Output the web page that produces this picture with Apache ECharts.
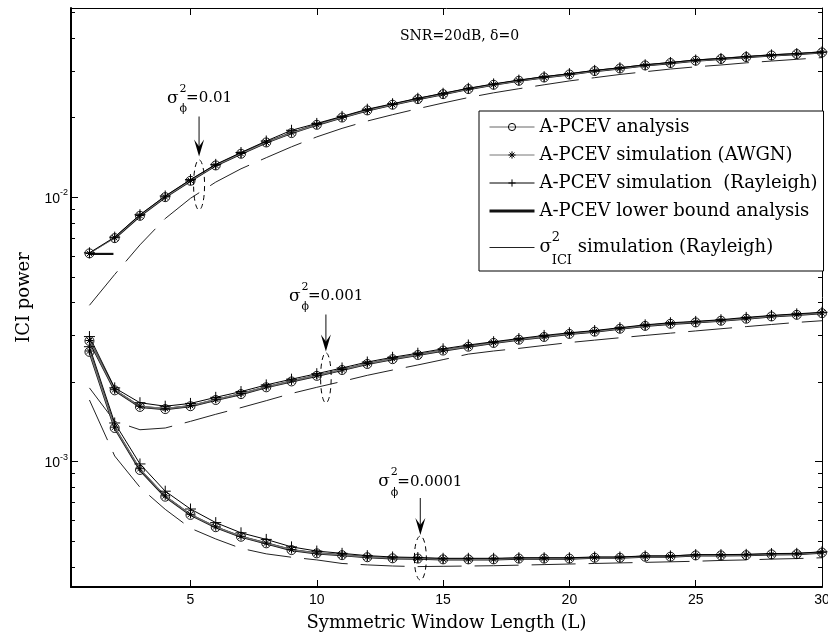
<!DOCTYPE html>
<html>
<head>
<meta charset="utf-8">
<script src="https://cdn.jsdelivr.net/npm/echarts@6/dist/echarts.min.js"></script>
<style>
  html, body { margin: 0; padding: 0; background: #fff; }
  #main { width: 828px; height: 641px; }
</style>
</head>
<body>
<div id="main"></div>
<script>
// window length L
var L = [1, 2, 3, 4, 5, 6, 7, 8, 9, 10, 11, 12, 13, 14, 15,
         16, 17, 18, 19, 20, 21, 22, 23, 24, 25, 26, 27, 28, 29, 30];

// sigma_phi^2 = 0.01
var anaTop  = [0.00613, 0.00700, 0.00850, 0.01000, 0.01153, 0.01318, 0.01459, 0.01610, 0.01747, 0.01877,
               0.02000, 0.02128, 0.02236, 0.02348, 0.02452, 0.02563, 0.02660, 0.02755, 0.02835, 0.02910,
               0.02998, 0.03066, 0.03148, 0.03214, 0.03280, 0.03330, 0.03386, 0.03434, 0.03476, 0.03524];
var awgnTop = [0.00612, 0.00702, 0.00852, 0.01002, 0.01155, 0.01320, 0.01462, 0.01612, 0.01750, 0.01880,
               0.02003, 0.02130, 0.02240, 0.02350, 0.02455, 0.02566, 0.02663, 0.02758, 0.02838, 0.02914,
               0.03000, 0.03070, 0.03150, 0.03218, 0.03284, 0.03334, 0.03390, 0.03438, 0.03480, 0.03528];
var rayTop  = [0.00616, 0.00706, 0.00858, 0.01010, 0.01165, 0.01330, 0.01475, 0.01630, 0.01790, 0.01900,
               0.02020, 0.02150, 0.02255, 0.02365, 0.02470, 0.02580, 0.02680, 0.02770, 0.02855, 0.02930,
               0.03015, 0.03085, 0.03165, 0.03230, 0.03300, 0.03345, 0.03400, 0.03450, 0.03490, 0.03540];
var iciTop  = [0.0039, 0.0051, 0.0066, 0.0083, 0.0099, 0.0114, 0.0128, 0.0141, 0.0155, 0.0169,
               0.0182, 0.0194, 0.0205, 0.0216, 0.0227, 0.0238, 0.0248, 0.0257, 0.0266, 0.0275,
               0.0283, 0.0291, 0.0298, 0.0305, 0.0311, 0.0316, 0.0322, 0.0327, 0.0332, 0.0337];
// short piece of the lower bound at L=1
var lbStubL = [1, 1.95];
var lbStubV = [0.0061, 0.0061];

// sigma_phi^2 = 0.001
var anaMid  = [0.00286, 0.00186, 0.00161, 0.00158, 0.00162, 0.00171, 0.00180, 0.00191, 0.00201, 0.00211,
               0.00222, 0.00234, 0.00244, 0.00253, 0.00263, 0.00272, 0.00281, 0.00289, 0.00296, 0.00304,
               0.00310, 0.00318, 0.00326, 0.00332, 0.00336, 0.00341, 0.00347, 0.00354, 0.00359, 0.00364];
var awgnMid = [0.00287, 0.00187, 0.00162, 0.00159, 0.00163, 0.00172, 0.00181, 0.00192, 0.00202, 0.00212,
               0.00223, 0.00235, 0.00245, 0.00254, 0.00264, 0.00273, 0.00282, 0.00290, 0.00297, 0.00305,
               0.00311, 0.00319, 0.00327, 0.00333, 0.00337, 0.00342, 0.00348, 0.00355, 0.00360, 0.00365];
var rayMid  = [0.00297, 0.00190, 0.00167, 0.00162, 0.00166, 0.00175, 0.00184, 0.00195, 0.00205, 0.00215,
               0.00226, 0.00238, 0.00248, 0.00257, 0.00267, 0.00276, 0.00284, 0.00292, 0.00300, 0.00307,
               0.00313, 0.00321, 0.00329, 0.00335, 0.00339, 0.00344, 0.00351, 0.00357, 0.00362, 0.00367];
var iciMid  = [0.00190, 0.00142, 0.00132, 0.00134, 0.00142, 0.00151, 0.00160, 0.00170, 0.00181, 0.00191,
               0.00201, 0.00212, 0.00222, 0.00232, 0.00243, 0.00255, 0.00262, 0.00268, 0.00275, 0.00282,
               0.00288, 0.00294, 0.00300, 0.00306, 0.00312, 0.00318, 0.00324, 0.00330, 0.00336, 0.00341];

// sigma_phi^2 = 0.0001
var anaBot  = [0.00260, 0.00134, 0.00093, 0.000737, 0.000629, 0.000565, 0.000520, 0.000491, 0.000463, 0.000450,
               0.000443, 0.000435, 0.000431, 0.000430, 0.000427, 0.000427, 0.000427, 0.000430, 0.000430, 0.000430,
               0.000433, 0.000433, 0.000437, 0.000437, 0.000442, 0.000442, 0.000443, 0.000446, 0.000447, 0.000453];
var awgnBot = [0.00262, 0.00135, 0.00094, 0.000742, 0.000632, 0.000567, 0.000522, 0.000492, 0.000465, 0.000451,
               0.000444, 0.000436, 0.000432, 0.000431, 0.000428, 0.000428, 0.000428, 0.000431, 0.000431, 0.000431,
               0.000434, 0.000434, 0.000438, 0.000438, 0.000443, 0.000443, 0.000444, 0.000447, 0.000448, 0.000454];
var rayBot  = [0.00272, 0.00140, 0.00098, 0.000773, 0.000662, 0.000588, 0.000538, 0.000508, 0.000476, 0.000459,
               0.000450, 0.000441, 0.000436, 0.000434, 0.000431, 0.000431, 0.000431, 0.000433, 0.000433, 0.000433,
               0.000436, 0.000436, 0.000440, 0.000440, 0.000445, 0.000445, 0.000446, 0.000449, 0.000450, 0.000456];
var iciBot  = [0.00171, 0.00105, 0.00080, 0.00066, 0.00056, 0.00051, 0.00047, 0.000448, 0.000435, 0.000425,
               0.000412, 0.000407, 0.000403, 0.000401, 0.000402, 0.000403, 0.000404, 0.000406, 0.000408, 0.000410,
               0.000412, 0.000414, 0.000416, 0.000418, 0.000420, 0.000423, 0.000425, 0.000428, 0.000430, 0.000433];

// ticks
var xTicks = [5, 10, 15, 20, 25, 30];
var yMajor = [0.001, 0.01];
var yMinor = [0.0004, 0.0005, 0.0006, 0.0007, 0.0008, 0.0009,
              0.002, 0.003, 0.004, 0.005, 0.006, 0.007, 0.008, 0.009,
              0.02, 0.03, 0.04, 0.05];

var N_ANA = 'A-PCEV analysis';
var N_AWGN = 'A-PCEV simulation (AWGN)';
var N_RAY = 'A-PCEV simulation  (Rayleigh)';
var N_LB = 'A-PCEV lower bound analysis';
var N_ICI = 'sigma2 ICI simulation (Rayleigh)';

var serif = '"DejaVu Serif", serif';
var sans = '"Liberation Sans", Arial, sans-serif';

var asterisk = 'path://M0,5L10,5M5,0L5,10M1.6,1.6L8.4,8.4M8.4,1.6L1.6,8.4';
var plusSym = 'path://M0,5L10,5M5,0L5,10';

function pts(xs, ys) {
  return xs.map(function (x, i) { return [x, ys[i]]; });
}

var hidden = { color: 'rgba(0,0,0,0)', borderWidth: 0 };

function ici(ys) {
  return { name: N_ICI, type: 'line', data: pts(L, ys), symbol: 'circle', showSymbol: false,
    itemStyle: hidden, lineStyle: { color: '#222', width: 1, type: [44, 13] }, z: 2 };
}
function lb(xs, ys) {
  return { name: N_LB, type: 'line', data: pts(xs, ys), symbol: 'circle', showSymbol: false,
    itemStyle: hidden, lineStyle: { color: '#111', width: 2.2 }, z: 3 };
}
function ana(ys) {
  return { name: N_ANA, type: 'line', data: pts(L, ys), symbol: 'circle', symbolSize: 9,
    itemStyle: { color: 'rgba(0,0,0,0)', borderColor: '#000', borderWidth: 0.9 },
    lineStyle: { color: '#666', width: 1 }, z: 4 };
}
function awgn(ys) {
  return { name: N_AWGN, type: 'line', data: pts(L, ys), symbol: asterisk, symbolSize: 8,
    itemStyle: { color: '#000', borderColor: '#000', borderWidth: 1 },
    lineStyle: { color: '#777', width: 1 }, z: 5 };
}
function ray(ys) {
  return { name: N_RAY, type: 'line', data: pts(L, ys), symbol: plusSym, symbolSize: 11,
    itemStyle: { color: '#000', borderColor: '#000', borderWidth: 1 },
    lineStyle: { color: '#000', width: 1 }, z: 6 };
}

var series = [
  ana(anaTop), awgn(awgnTop), ray(rayTop), lb(lbStubL, lbStubV), ici(iciTop),
  lb(L.slice(1), anaTop.slice(1)),
  ana(anaMid), awgn(awgnMid), ray(rayMid), lb(L, anaMid), ici(iciMid),
  ana(anaBot), awgn(awgnBot), ray(rayBot), lb(L, anaBot), ici(iciBot)
];

var xMin = 0.27, xMax = 30;
var yMin = 0.0003357, yMax = 0.0519;

function yAx(pos, ticks, len, showLabel, lineW) {
  return {
    type: 'log', logBase: 10, min: yMin, max: yMax, position: pos,
    axisLine: { show: lineW > 0, lineStyle: { color: '#000', width: lineW } },
    axisTick: { show: true, inside: true, length: len, customValues: ticks,
      lineStyle: { color: '#000', width: 1 } },
    axisLabel: showLabel ? {
      show: true, margin: 3, customValues: yMajor, color: '#000',
      formatter: function (v) {
        return '{b|10}{sup|' + Math.round(Math.log(v) / Math.LN10) + '}';
      },
      rich: {
        b: { fontFamily: sans, fontSize: 14, color: '#000', padding: [4, 0, 0, 0] },
        sup: { fontFamily: sans, fontSize: 9, color: '#000', verticalAlign: 'top' }
      }
    } : { show: false },
    splitLine: { show: false },
    minorTick: { show: false }
  };
}

var chart = echarts.init(document.getElementById('main'));

chart.setOption({
  animation: false,
  backgroundColor: '#fff',
  grid: { left: 71, right: 6, top: 8, bottom: 54, show: false, containLabel: false, outerBoundsMode: 'none' },
  xAxis: [{
    type: 'value', min: xMin, max: xMax, position: 'bottom',
    name: 'Symmetric Window Length (L)', nameLocation: 'middle', nameGap: 27,
    nameTextStyle: { fontFamily: serif, fontSize: 18, color: '#000' },
    axisLine: { onZero: false, lineStyle: { color: '#000', width: 2 } },
    axisTick: { inside: true, length: 7, customValues: xTicks, lineStyle: { color: '#000' } },
    axisLabel: { customValues: xTicks, margin: 6, fontFamily: sans, fontSize: 14, color: '#000' },
    splitLine: { show: false }
  }, {
    type: 'value', min: xMin, max: xMax, position: 'top',
    axisLine: { onZero: false, lineStyle: { color: '#000', width: 1 } },
    axisTick: { inside: true, length: 7, customValues: xTicks, lineStyle: { color: '#000' } },
    axisLabel: { show: false },
    splitLine: { show: false }
  }],
  yAxis: [
    (function () {
      var a = yAx('left', yMajor, 7, true, 2);
      a.name = 'ICI power';
      a.nameLocation = 'middle';
      a.nameGap = 35;
      a.nameRotate = 90;
      a.nameTextStyle = { fontFamily: serif, fontSize: 18, color: '#000' };
      return a;
    })(),
    yAx('left', yMinor, 4, false, 0),
    yAx('right', yMajor, 7, false, 1),
    yAx('right', yMinor, 4, false, 0)
  ],
  legend: {
    orient: 'vertical', left: 479, top: 111,
    selectedMode: false,
    backgroundColor: '#fff', borderColor: '#000', borderWidth: 1,
    padding: [5, 6, 4, 9],
    itemGap: 6, itemWidth: 45, itemHeight: 9, itemTextGap: 5,
    itemStyle: { borderWidth: 1 },
    textStyle: {
      fontFamily: serif, fontSize: 18, color: '#000', lineHeight: 22,
      rich: {
        s: { fontFamily: serif, fontSize: 18, color: '#000', lineHeight: 39 },
        sup: { fontFamily: serif, fontSize: 13, color: '#000', width: 0, verticalAlign: 'top', padding: [3, 0, 0, 0] },
        sub: { fontFamily: serif, fontSize: 13, color: '#000', verticalAlign: 'bottom' },
        t: { fontFamily: serif, fontSize: 18, color: '#000', lineHeight: 39 }
      }
    },
    formatter: function (name) {
      if (name === N_ICI) return '{s|σ}{sup|2}{sub|ICI}{t| simulation (Rayleigh)}';
      return name;
    },
    data: [
      { name: N_ANA, lineStyle: { width: 1 } },
      { name: N_AWGN, lineStyle: { width: 1 } },
      { name: N_RAY, lineStyle: { width: 1 } },
      { name: N_LB, lineStyle: { width: 3 } },
      { name: N_ICI, lineStyle: { width: 1, type: 'solid' } }
    ]
  },
  series: series
});

// arrows, dashed ellipses and sigma labels, anchored to data coordinates
var notes = [
  { x: 5.34, tip: 0.01424, ell: 0.01113, rx: 5.5, ry: 25, shaft: 40, sx: -32, sy: -58, val: '=0.01' },
  { x: 10.36, tip: 0.002607, ell: 0.002074, rx: 5.3, ry: 25, shaft: 37, sx: -37, sy: -55, val: '=0.001' },
  { x: 14.1, tip: 0.000528, ell: 0.000432, rx: 6, ry: 22, shaft: 37, sx: -42, sy: -53, val: '=0.0001' }
];

var g = [];
function txt(x, y, s, size) {
  g.push({ type: 'text', x: x, y: y, z: 100,
    style: { text: s, font: size + 'px ' + serif, fill: '#000', align: 'left', verticalAlign: 'middle' } });
}
notes.forEach(function (n) {
  var t = chart.convertToPixel({ xAxisIndex: 0, yAxisIndex: 0 }, [n.x, n.tip]);
  var e = chart.convertToPixel({ xAxisIndex: 0, yAxisIndex: 0 }, [n.x, n.ell]);
  g.push({ type: 'ellipse', z: 100, shape: { cx: e[0], cy: e[1], rx: n.rx, ry: n.ry },
    style: { fill: null, stroke: '#000', lineWidth: 1, lineDash: [5, 4] } });
  g.push({ type: 'line', z: 100, shape: { x1: t[0], y1: t[1] - n.shaft, x2: t[0], y2: t[1] - 10 },
    style: { stroke: '#444', lineWidth: 1.3 } });
  g.push({ type: 'polygon', z: 100,
    shape: { points: [[t[0], t[1]], [t[0] - 5, t[1] - 17], [t[0], t[1] - 10], [t[0] + 5, t[1] - 17]] },
    style: { fill: '#000' } });
  var sx = t[0] + n.sx, sy = t[1] + n.sy;
  txt(sx, sy, 'σ', 17);
  txt(sx + 12.5, sy - 9.5, '2', 11);
  txt(sx + 12.5, sy + 11, 'ϕ', 11);
  txt(sx + 19, sy, n.val, 15);
});
txt(400, 36, 'SNR=20dB, δ=0', 14);

chart.setOption({ graphic: g });
</script>
</body>
</html>
